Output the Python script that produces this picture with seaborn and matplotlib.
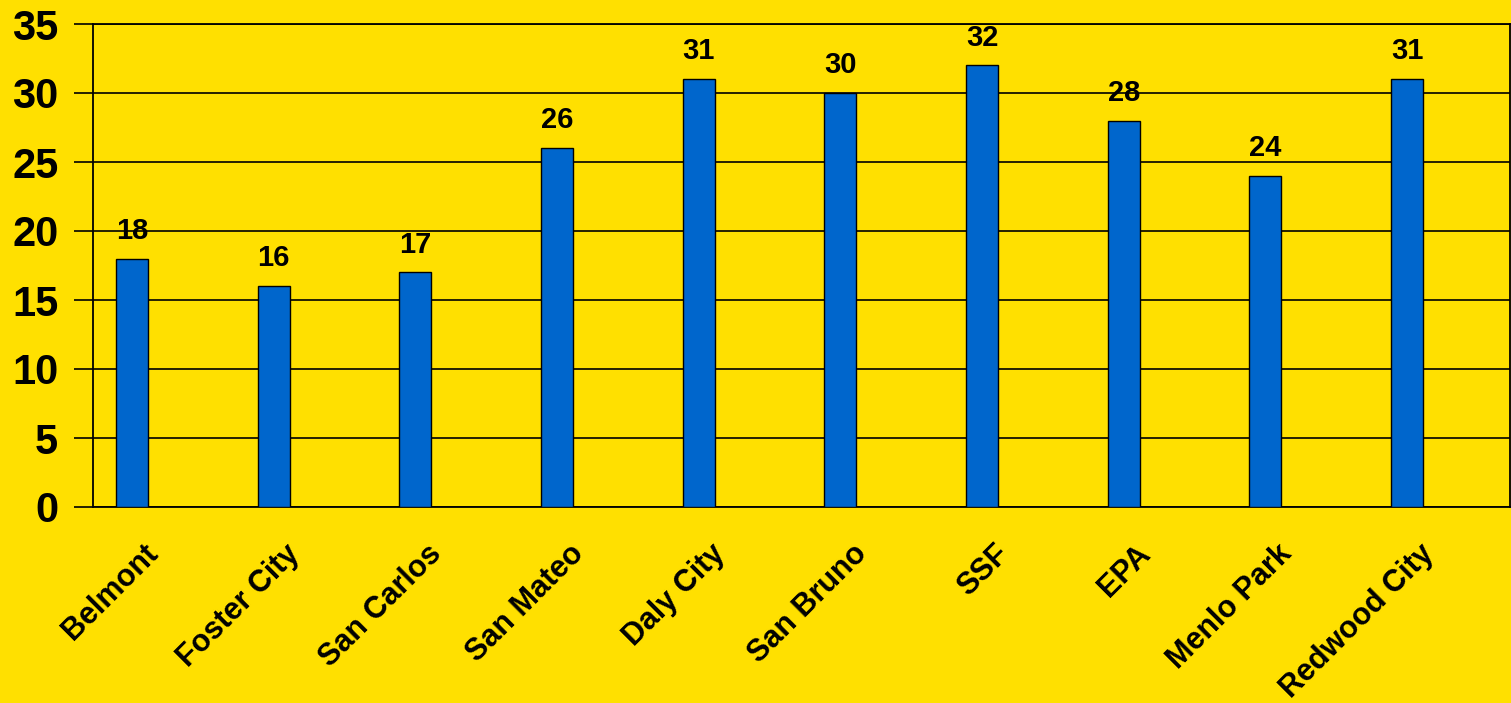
import matplotlib
matplotlib.use("Agg")
import matplotlib.pyplot as plt
import matplotlib.transforms as mtransforms
import seaborn as sns
import pandas as pd

cities = ["Belmont", "Foster City", "San Carlos", "San Mateo", "Daly City",
          "San Bruno", "SSF", "EPA", "Menlo Park", "Redwood City"]
values = [18, 16, 17, 26, 31, 30, 32, 28, 24, 31]
series_levels = ["S1", "S2", "S3"]
y_ticks = [0, 5, 10, 15, 20, 25, 30, 35]

BG = "#FFE000"
BAR = "#0066CC"

sns.set_theme(style="white")
plt.rcParams["font.family"] = ["Liberation Sans", "DejaVu Sans"]
plt.rcParams["font.weight"] = "bold"
plt.rcParams["text.color"] = "black"
plt.rcParams["xtick.color"] = "black"
plt.rcParams["ytick.color"] = "black"

df = pd.DataFrame({"city": cities, "value": values, "series": ["S1"] * len(cities)})

fig = plt.figure(figsize=(15.11, 7.03), dpi=100, facecolor=BG)
ax = fig.add_axes([93 / 1511, 1 - 507 / 703, (1510 - 93) / 1511, (507 - 24) / 703])
ax.set_facecolor(BG)

sns.barplot(data=df, x="city", y="value", hue="series", hue_order=series_levels,
            order=cities, palette=[BAR, BAR, BAR], width=0.677, dodge=True,
            saturation=1, edgecolor="black", linewidth=1.0, legend=False, ax=ax,
            errorbar=None, zorder=3)

ax.set_ylim(0, 35)
ax.set_xlim(-0.5, len(cities) - 0.5)
ax.set_yticks(y_ticks)
ax.set_yticklabels([str(t) for t in y_ticks], fontsize=30, fontweight="bold", color="black")
ax.yaxis.grid(True, color="black", linewidth=1.2, zorder=0)
ax.set_axisbelow(True)
ax.set_xlabel("")
ax.set_ylabel("")

ax.set_xticks(range(len(cities)))
ax.set_xticklabels(cities, rotation=45, ha="right", va="center", rotation_mode="anchor",
                   fontsize=22, fontweight="bold", color="black")
ax.set_xticks([i - 0.5 for i in range(len(cities) + 1)], minor=True)
ax.tick_params(axis="x", which="major", length=0, pad=32)
ax.tick_params(axis="x", which="minor", length=10, width=1.2, color="black", direction="out")
ax.tick_params(axis="y", length=14, width=1.2, color="black", direction="out", pad=11, left=True)

offset = mtransforms.ScaledTranslation(-10 / 100, 2 / 100, fig.dpi_scale_trans)
for lab in ax.get_xticklabels():
    lab.set_transform(lab.get_transform() + offset)

for s in ax.spines.values():
    s.set_visible(True)
    s.set_color("black")
    s.set_linewidth(1.3)

for c in ax.containers:
    if len(c) == len(values):
        ax.bar_label(c, labels=[str(v) for v in values],
                     padding=10, fontsize=21, fontweight="bold", color="black")
        break

fig.savefig("out.png", dpi=100, facecolor=BG)
